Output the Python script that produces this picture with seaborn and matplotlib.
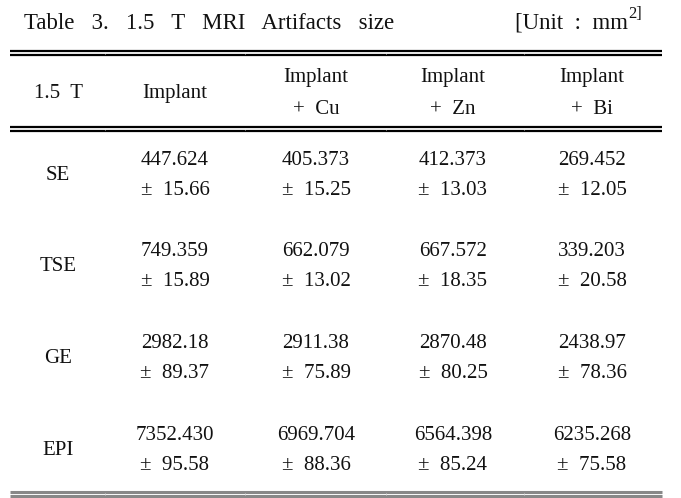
import matplotlib.pyplot as plt
import seaborn as sns

# Table data
sequences = ["SE", "TSE", "GE", "EPI"]
col_heads = ["Implant", "Implant\n+  Cu", "Implant\n+  Zn", "Implant\n+  Bi"]
implant = ["447.624", "749.359", "2982.18", "7352.430"]
implant_sd = ["15.66", "15.89", "89.37", "95.58"]
cu = ["405.373", "662.079", "2911.38", "6969.704"]
cu_sd = ["15.25", "13.02", "75.89", "88.36"]
zn = ["412.373", "667.572", "2870.48", "6564.398"]
zn_sd = ["13.03", "18.35", "80.25", "85.24"]
bi = ["269.452", "339.203", "2438.97", "6235.268"]
bi_sd = ["12.05", "20.58", "78.36", "75.58"]

means = [implant, cu, zn, bi]
sds = [implant_sd, cu_sd, zn_sd, bi_sd]

sns.set_theme(style="white")
plt.rcParams['font.family'] = ['Liberation Serif', 'DejaVu Serif']

fig = plt.figure(figsize=(6.81, 4.98), dpi=100)
ax = fig.add_axes([0, 0, 1, 1])
ax.set_xlim(0, 681)
ax.set_ylim(498, 0)
ax.axis('off')

fs = 15
txt = '#111111'

# title
ax.text(24, 23, "Table   3.   1.5   T   MRI   Artifacts   size", fontsize=16.5,
        ha='left', va='center', color=txt)
ax.text(628, 23, "[Unit  :  mm", fontsize=16.5, ha='right', va='center', color=txt)
ax.text(628, 14, "2]", fontsize=12, ha='left', va='center', color=txt)

# rules
x0, x1 = 10, 662
for y in (51, 55, 127, 131):
    ax.hlines(y, x0, x1, color='black', lw=1.6)
for y in (492, 496):
    ax.hlines(y, x0, x1, color='#888888', lw=2.2)

# faint column separators
for x in (105, 245, 386, 524):
    ax.vlines(x, 52, 54, color='#e8e8e8', lw=0.6)
    ax.vlines(x, 128, 130, color='#e8e8e8', lw=0.6)
    ax.vlines(x, 493, 495, color='#d8d8d8', lw=0.6)

col_x = [175, 316, 453, 592]

# header
ax.text(58, 93, "1.5  T", fontsize=fs, ha='center', va='center', color=txt)
for cx, h in zip(col_x, col_heads):
    parts = h.split("\n")
    if len(parts) == 1:
        ax.text(cx, 93, parts[0], fontsize=fs, ha='center', va='center', color=txt)
    else:
        ax.text(cx, 77, parts[0], fontsize=fs, ha='center', va='center', color=txt)
        ax.text(cx, 109, parts[1], fontsize=fs, ha='center', va='center', color=txt)

# body
row_y = [175, 266, 358, 450]
for ry, seq in zip(row_y, sequences):
    ax.text(58, ry, seq, fontsize=fs, ha='center', va='center', color=txt)
for j, cx in enumerate(col_x):
    for i, ry in enumerate(row_y):
        ax.text(cx, ry - 15, means[j][i], fontsize=fs, ha='center', va='center', color=txt)
        ax.text(cx, ry + 15, "\u00b1  " + sds[j][i], fontsize=fs, ha='center', va='center', color=txt)

fig.savefig("out.png", dpi=100)
